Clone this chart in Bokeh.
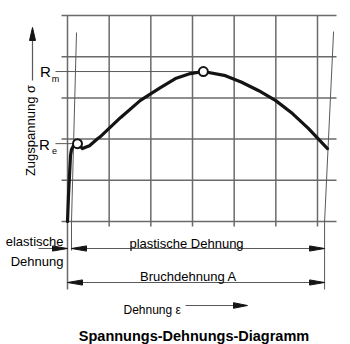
import math
from bokeh.plotting import figure
from bokeh.models import Range1d
from bokeh.core.properties import value
from bokeh.embed import file_html
from bokeh.resources import INLINE

# ---- data (strain / stress in grid units) ----
grid_strain = [0, 1, 2, 3, 4, 5, 6]
grid_stress = [0, 1, 2, 3, 4, 5]

curve_strain = [0.0, 0.024, 0.048, 0.072, 0.096, 0.144, 0.24, 0.312, 0.36, 0.432, 0.528,
                0.72, 0.79, 1.27, 1.75, 2.23, 2.59, 2.95, 3.26, 3.79, 4.18, 4.58, 4.99,
                5.40, 5.78, 6.24]
curve_stress = [0.0, 0.63, 1.12, 1.60, 1.75, 1.84, 1.89, 1.82, 1.77, 1.80, 1.84,
                2.01, 2.06, 2.52, 2.94, 3.25, 3.47, 3.59, 3.64, 3.54, 3.38, 3.18, 2.94,
                2.62, 2.26, 1.77]

marker_labels = ["R", "R"]
marker_subs = ["e", "m"]
marker_strain = [0.24, 3.26]
marker_stress = [1.89, 3.64]

elastic_strain = 0.096     # end of elastic part (start of plastic)
fracture_strain = 6.17     # total strain at fracture

title = "Spannungs-Dehnungs-Diagramm"
y_label = "Zugspannung \u03c3"
x_label = "Dehnung \u03b5"
txt_elastic = ["elastische", "Dehnung"]
txt_plastic = "plastische Dehnung"
txt_bruch = "Bruchdehnung A"

# ---- layout scale (px per grid unit) ----
XU = 250 / 6
YU = 206 / 5
W, H = 350, 344
X0, Y0 = 67, 221


def dx(px):
    return px / XU


def dy(px):
    return px / YU


p = figure(width=W, height=H, x_range=Range1d(-X0 / XU, (W - X0) / XU),
           y_range=Range1d(-(H - Y0) / YU, Y0 / YU),
           output_backend="svg", toolbar_location=None, min_border=0,
           x_axis_type=None, y_axis_type=None)
p.grid.visible = False
p.outline_line_color = None
p.background_fill_color = "white"
p.border_fill_color = "white"

GRID = "#6a6a6a"
THIN = "#5a5a5a"
INK = "#000000"
FONT = value("Liberation Sans")

top = grid_stress[-1]
# grid
p.segment(x0=grid_strain[1:], y0=[-dy(5)] * (len(grid_strain) - 1),
          x1=grid_strain[1:], y1=[top] * (len(grid_strain) - 1),
          line_color=GRID, line_width=1.5)
p.segment(x0=[0], y0=[-dy(68)], x1=[0], y1=[top], line_color=GRID, line_width=1.5)
p.segment(x0=[-dx(6)] * len(grid_stress), y0=grid_stress,
          x1=[grid_strain[-1] + dx(19)] * len(grid_stress), y1=grid_stress,
          line_color=GRID, line_width=1.5)

# offset (parallel) thin lines
p.line(x=[elastic_strain + dx(5), elastic_strain, elastic_strain],
       y=[dy(189), 0, -dy(29)], line_color=THIN, line_width=1)
p.line(x=[fracture_strain + dx(9), fracture_strain, fracture_strain],
       y=[dy(190), 0, -dy(68)], line_color=THIN, line_width=1)

# Re / Rm level lines
p.segment(x0=[-dx(12), -dx(12)], y0=marker_stress,
          x1=[elastic_strain + dx(2), marker_strain[1]], y1=marker_stress,
          line_color=THIN, line_width=1)

# curve
p.line(x=curve_strain, y=curve_stress, line_color="#141414", line_width=3.2,
       line_join="round", line_cap="round")
p.scatter(x=marker_strain, y=marker_stress, size=9, fill_color="white",
          line_color="#141414", line_width=2)

# marker labels
p.text(x=[-dx(23), -dx(22)], y=marker_stress, text=marker_labels,
       text_font=FONT, text_font_size="15px", text_color=INK,
       text_align="center", text_baseline="middle", y_offset=[1, 0])
p.text(x=[-dx(13), -dx(12)], y=marker_stress, text=marker_subs,
       text_font=FONT, text_font_size="9px", text_color=INK,
       text_align="center", text_baseline="middle", y_offset=[7, 7])


def head(tip_x, tip_y, ux, uy, length=15, half=2.6):
    # ux, uy: direction in screen px (pointing to tip)
    bx, by = -ux * length, -uy * length
    px_, py_ = -uy * half, ux * half
    xs = [tip_x, tip_x + dx(bx + px_), tip_x + dx(bx - px_)]
    ys = [tip_y, tip_y + dy(by + py_), tip_y + dy(by - py_)]
    return xs, ys


heads_x, heads_y = [], []
y_el = -dy(27)
y_br = -dy(61)
# dimension lines
p.segment(x0=[-dx(29), elastic_strain, 0], y0=[y_el, y_el, y_br],
          x1=[0, fracture_strain, fracture_strain], y1=[y_el, y_el, y_br],
          line_color=THIN, line_width=1)
for (tx, ty, ux) in [(0, y_el, 1), (elastic_strain, y_el, -1),
                     (fracture_strain, y_el, 1), (0, y_br, -1),
                     (fracture_strain, y_br, 1)]:
    hx, hy = head(tx, ty, ux, 0)
    heads_x.append(hx)
    heads_y.append(hy)

# y-axis arrow
ya_x = -dx(35)
p.segment(x0=[ya_x], y0=[dy(141)], x1=[ya_x], y1=[dy(186)], line_color=THIN, line_width=1.2)
hx, hy = head(ya_x, dy(194), 0, 1, length=13, half=3)
heads_x.append(hx)
heads_y.append(hy)

# x-axis arrow
xa_y = -dy(84)
p.segment(x0=[dx(118)], y0=[xa_y], x1=[dx(170)], y1=[xa_y], line_color=THIN, line_width=1.2)
hx, hy = head(dx(180), xa_y, 1, 0, length=14, half=2.8)
heads_x.append(hx)
heads_y.append(hy)

p.patches(xs=heads_x, ys=heads_y, fill_color="#141414", line_color="#141414", line_width=1)

# texts
p.text(x=[-dx(4), -dx(4)], y=[-dy(20), -dy(39.5)], text=txt_elastic, text_font=FONT,
       text_font_size="13px", text_color=INK, text_align="right",
       text_baseline="alphabetic")
p.text(x=[dx(119)], y=[-dy(21.5)], text=[txt_plastic], text_font=FONT,
       text_font_size="13px", text_color=INK, text_align="center",
       text_baseline="alphabetic")
p.text(x=[dx(121)], y=[-dy(55)], text=[txt_bruch], text_font=FONT,
       text_font_size="13px", text_color=INK, text_align="center",
       text_baseline="alphabetic")
p.text(x=[dx(56)], y=[-dy(88)], text=[x_label], text_font=FONT,
       text_font_size="12px", text_color=INK, text_align="left",
       text_baseline="alphabetic")
p.text(x=[-dx(37.5)], y=[dy(91)], text=[y_label], text_font=FONT,
       text_font_size="13px", text_color=INK, text_align="center",
       text_baseline="middle", angle=math.pi / 2)
p.text(x=[dx(126.5)], y=[-dy(114)], text=[title], text_font=FONT,
       text_font_size="14.5px", text_font_style="bold", text_color=INK,
       text_align="center", text_baseline="alphabetic")

open("out.html", "w").write(file_html(p, INLINE))
